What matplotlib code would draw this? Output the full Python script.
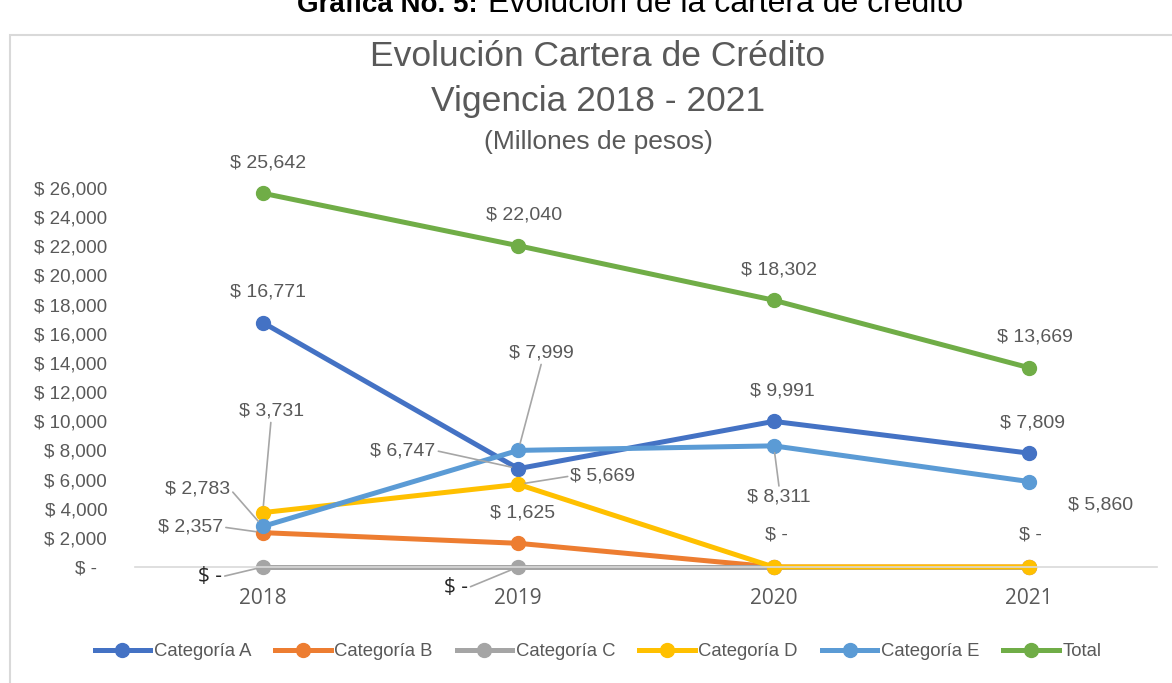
import matplotlib.pyplot as plt
from matplotlib.patches import Rectangle
from matplotlib.ticker import FuncFormatter
from matplotlib.lines import Line2D

years = ['2018', '2019', '2020', '2021']
cat_a = [16771, 6747, 9991, 7809]
cat_b = [2357, 1625, 0, 0]
cat_c = [0, 0, 0, 0]
cat_d = [3731, 5669, 0, 0]
cat_e = [2783, 7999, 8311, 5860]
total = [25642, 22040, 18302, 13669]

names = ['Categoría A', 'Categoría B', 'Categoría C', 'Categoría D', 'Categoría E', 'Total']
colors = ['#4472C4', '#ED7D31', '#A5A5A5', '#FFC000', '#5B9BD5', '#70AD47']
series = [cat_a, cat_b, cat_c, cat_d, cat_e, total]

font = 'Liberation Sans'
grey = '#595959'

def money(v):
    return '$ -' if v == 0 else '$ {:,.0f}'.format(v)

fig = plt.figure(figsize=(11.72, 6.83), dpi=100)
fig.patch.set_facecolor('white')

# outer chart border
fig.patches.append(Rectangle((10 / 1172, -0.05), 1.1, 1 - 35 / 683 + 0.05,
                             transform=fig.transFigure, fill=False,
                             edgecolor='#D9D9D9', linewidth=1.5))

# document caption, cut by the top edge like in the source
fig.text(478 / 1172, 1 - 12 / 683, 'Gráfica No. 5:', ha='right', va='baseline',
         fontsize=20, fontweight='bold', family=font, color='black')
fig.text(488 / 1172, 1 - 12 / 683, 'Evolución de la cartera de crédito', ha='left',
         va='baseline', fontsize=23, family=font, color='black')

fig.text(598 / 1172, 1 - 57 / 683, 'Evolución Cartera de Crédito', ha='center', va='center',
         fontsize=25.5, color=grey, family=font)
fig.text(598 / 1172, 1 - 101 / 683, 'Vigencia 2018 - 2021', ha='center', va='center',
         fontsize=25.5, color=grey, family=font)
fig.text(598 / 1172, 1 - 142 / 683, '(Millones de pesos)', ha='center', va='center',
         fontsize=19, color=grey, family=font)

ax = fig.add_axes([135 / 1172, 1 - 567 / 683, 1022 / 1172, 379 / 683])
x = list(range(len(years)))
for vals, name, col in zip(series, names, colors):
    ax.plot(x, vals, color=col, linewidth=3.6, marker='o', markersize=10,
            label=name, clip_on=False, solid_capstyle='round')

ax.set_xlim(-0.5, 3.5)
ax.set_ylim(0, 26000)
ax.set_yticks(range(0, 26001, 2000))
ax.yaxis.set_major_formatter(FuncFormatter(lambda v, p: '$ -  ' if v == 0 else money(v)))
ax.set_xticks(x)
ax.set_xticklabels(years)
for s in ['top', 'right', 'left']:
    ax.spines[s].set_visible(False)
ax.spines['bottom'].set_color('#D9D9D9')
ax.spines['bottom'].set_linewidth(1.2)
ax.tick_params(axis='both', length=0)
ax.tick_params(axis='y', pad=20)
ax.tick_params(axis='x', pad=15)
for t in ax.get_yticklabels():
    t.set_family(font)
    t.set_fontsize(13.5)
    t.set_color(grey)
for t in ax.get_xticklabels():
    t.set_family('Open Sans')
    t.set_fontsize(15)
    t.set_color(grey)

lab = dict(fontsize=14, color=grey, family=font, ha='center', va='center')
lead = dict(arrowstyle='-', color='#A6A6A6', lw=1.2, shrinkA=0, shrinkB=5)

# Total
for i, v in enumerate(total):
    ax.annotate(money(v), (i, v), xytext=(4, 22), textcoords='offset points', **lab)
# Categoría A
ax.annotate(money(cat_a[0]), (0, cat_a[0]), xytext=(4, 22), textcoords='offset points', **lab)
ax.annotate(money(cat_a[1]), (1, cat_a[1]), xytext=(-83, 13), textcoords='offset points',
            arrowprops=dict(lead, relpos=(1.0, 0.5)), **lab)
ax.annotate(money(cat_a[2]), (2, cat_a[2]), xytext=(6, 22), textcoords='offset points', **lab)
ax.annotate(money(cat_a[3]), (3, cat_a[3]), xytext=(2, 22), textcoords='offset points', **lab)
# Categoría E
ax.annotate(money(cat_e[0]), (0, cat_e[0]), xytext=(-47, 27), textcoords='offset points',
            arrowprops=dict(lead, relpos=(1.0, 0.5)), **lab)
ax.annotate(money(cat_e[1]), (1, cat_e[1]), xytext=(17, 70), textcoords='offset points',
            arrowprops=dict(lead, relpos=(0.5, 0.0)), **lab)
ax.annotate(money(cat_e[2]), (2, cat_e[2]), xytext=(4, -37), textcoords='offset points',
            arrowprops=dict(lead, relpos=(0.5, 1.0)), **lab)
ax.annotate(money(cat_e[3]), (3, cat_e[3]), xytext=(51, -17), textcoords='offset points', **lab)
# Categoría D
ax.annotate(money(cat_d[0]), (0, cat_d[0]), xytext=(6, 73), textcoords='offset points',
            arrowprops=dict(lead, relpos=(0.5, 0.0)), **lab)
ax.annotate(money(cat_d[1]), (1, cat_d[1]), xytext=(61, 6), textcoords='offset points',
            arrowprops=dict(lead, relpos=(0.0, 0.5)), **lab)
ax.annotate(money(cat_d[2]), (2, cat_d[2]), xytext=(2, 23), textcoords='offset points', **lab)
ax.annotate(money(cat_d[3]), (3, cat_d[3]), xytext=(1, 23), textcoords='offset points', **lab)
# Categoría B
ax.annotate(money(cat_b[0]), (0, cat_b[0]), xytext=(-52, 4), textcoords='offset points',
            arrowprops=dict(lead, relpos=(1.0, 0.5)), **lab)
ax.annotate(money(cat_b[1]), (1, cat_b[1]), xytext=(3, 22), textcoords='offset points', **lab)
# Categoría C
labc = dict(fontsize=15, color='#262626', family='Open Sans', ha='center', va='center')
ax.annotate(money(cat_c[0]), (0, cat_c[0]), xytext=(-38, -7), textcoords='offset points',
            arrowprops=dict(lead, relpos=(1.0, 0.5)), **labc)
ax.annotate(money(cat_c[1]), (1, cat_c[1]), xytext=(-45, -15), textcoords='offset points',
            arrowprops=dict(lead, relpos=(1.0, 0.5)), **labc)

handles = [Line2D([0], [0], color=c, linewidth=3.6, marker='o', markersize=10) for c in colors]
leg = fig.legend(handles, names, loc='center', bbox_to_anchor=(598 / 1172, 1 - 652 / 683),
                 ncol=6, frameon=False, handlelength=3.0, handletextpad=0.2,
                 columnspacing=1.3, prop={'family': font, 'size': 13.3})
for t in leg.get_texts():
    t.set_color(grey)

fig.savefig('out.png', dpi=100, facecolor='white')
